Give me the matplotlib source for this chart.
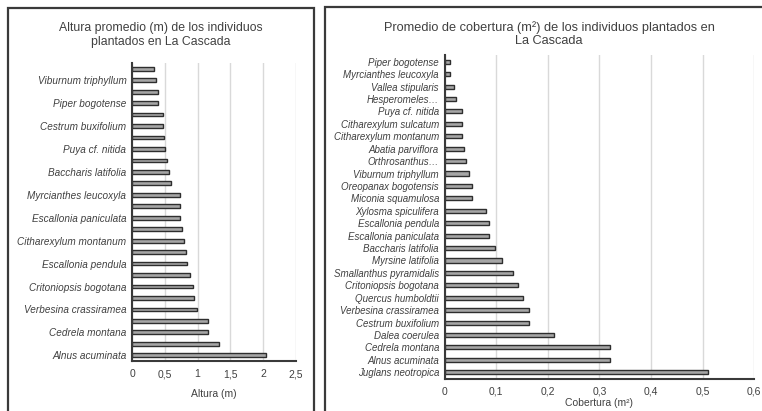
import matplotlib
matplotlib.use("Agg")
import matplotlib.pyplot as plt
from matplotlib.patches import Rectangle

plt.rcParams['font.family'] = ['Liberation Sans', 'DejaVu Sans']

# ---------------- data ----------------
# Left chart (top to bottom); unlabeled ticks in the original are shown blank
alt_species = ["Vallea stipularis", "Viburnum triphyllum", "Hesperomeles goudotiana", "Piper bogotense",
               "Citharexylum sulcatum", "Cestrum buxifolium", "Abatia parviflora", "Puya cf. nitida",
               "Orthrosanthus chimboracensis", "Baccharis latifolia", "Oreopanax bogotensis",
               "Myrcianthes leucoxyla", "Miconia squamulosa", "Escallonia paniculata",
               "Xylosma spiculifera", "Citharexylum montanum", "Myrsine latifolia", "Escallonia pendula",
               "Smallanthus pyramidalis", "Critoniopsis bogotana", "Quercus humboldtii",
               "Verbesina crassiramea", "Dalea coerulea", "Cedrela montana", "Juglans neotropica",
               "Alnus acuminata"]
alt_values = [0.33, 0.37, 0.40, 0.40, 0.48, 0.48, 0.49, 0.50, 0.54, 0.57, 0.60, 0.73, 0.73,
              0.73, 0.76, 0.80, 0.83, 0.84, 0.88, 0.93, 0.95, 0.99, 1.16, 1.16, 1.33, 2.04]
alt_ticks = [0, 0.5, 1, 1.5, 2, 2.5]
alt_ticklabels = ["0", "0,5", "1", "1,5", "2", "2,5"]

# Right chart (top to bottom)
cob_species = ["Piper bogotense", "Myrcianthes leucoxyla", "Vallea stipularis", "Hesperomeles…",
               "Puya cf. nitida", "Citharexylum sulcatum", "Citharexylum montanum", "Abatia parviflora",
               "Orthrosanthus…", "Viburnum triphyllum", "Oreopanax bogotensis", "Miconia squamulosa",
               "Xylosma spiculifera", "Escallonia pendula", "Escallonia paniculata", "Baccharis latifolia",
               "Myrsine latifolia", "Smallanthus pyramidalis", "Critoniopsis bogotana",
               "Quercus humboldtii", "Verbesina crassiramea", "Cestrum buxifolium", "Dalea coerulea",
               "Cedrela montana", "Alnus acuminata", "Juglans neotropica"]
cob_values = [0.010, 0.010, 0.019, 0.023, 0.034, 0.034, 0.034, 0.037, 0.042, 0.048, 0.053, 0.053,
              0.081, 0.087, 0.087, 0.098, 0.111, 0.132, 0.142, 0.152, 0.163, 0.163, 0.212,
              0.321, 0.321, 0.511]
cob_ticks = [0, 0.1, 0.2, 0.3, 0.4, 0.5, 0.6]
cob_ticklabels = ["0", "0,1", "0,2", "0,3", "0,4", "0,5", "0,6"]

# ---------------- figure ----------------
W, H = 762, 411
fig = plt.figure(figsize=(W / 100, H / 100), dpi=100)
fig.patch.set_facecolor('white')

def px_axes(x0, x1, ytop, ybot):
    return fig.add_axes([x0 / W, (H - ybot) / H, (x1 - x0) / W, (ybot - ytop) / H])

TXT = '#404040'
BAR_FC = '#a6a6a6'
BAR_EC = '#2e2e2e'
GRID = '#d9d9d9'

# panel frames
for (x0, x1, y0, y1) in [(8, 314, 8, 430), (325, 790, 7, 430)]:
    fig.patches.append(Rectangle((x0 / W, (H - y1) / H), (x1 - x0) / W, (y1 - y0) / H,
                                 transform=fig.transFigure, fill=False,
                                 edgecolor='#3a3a3a', linewidth=1.6))

def style(ax, xmax, ticks, ticklabels):
    ax.set_xlim(0, xmax)
    ax.set_xticks(ticks)
    ax.set_xticklabels(ticklabels, fontsize=7.5, color=TXT)
    ax.grid(axis='x', color=GRID, linewidth=1.0)
    ax.set_axisbelow(True)
    for s in ['top', 'right']:
        ax.spines[s].set_visible(False)
    ax.spines['left'].set_color('#3a3a3a')
    ax.spines['left'].set_linewidth(1.5)
    ax.spines['bottom'].set_color('#3a3a3a')
    ax.spines['bottom'].set_linewidth(1.5)
    ax.tick_params(axis='both', length=0, pad=4)
    ax.tick_params(axis='x', pad=6)

# ---- left chart ----
ax1 = px_axes(132, 296, 63, 361)
n1 = len(alt_species)
y1 = list(range(n1))
ax1.barh(y1, alt_values, height=0.33, color=BAR_FC, edgecolor=BAR_EC, linewidth=1.0)
ax1.set_ylim(n1 - 0.5, -0.5)
ax1.set_yticks(y1)
ax1.set_yticklabels([s if (n1 - 1 - i) % 2 == 0 else '' for i, s in enumerate(alt_species)],
                    fontsize=7.2, style='italic', color=TXT)
style(ax1, 2.5, alt_ticks, alt_ticklabels)
ax1.set_xlabel("Altura (m)", fontsize=7.5, color=TXT, labelpad=7)
fig.text(161 / W, 1 - 35 / H, "Altura promedio (m) de los individuos\nplantados en La Cascada",
         ha='center', va='center', fontsize=8.8, color=TXT, linespacing=1.25)

# ---- right chart ----
ax2 = px_axes(444.5, 754.3, 55.5, 378.5)
n2 = len(cob_species)
y2 = list(range(n2))
ax2.barh(y2, cob_values, height=0.33, color=BAR_FC, edgecolor=BAR_EC, linewidth=1.0)
ax2.set_ylim(n2 - 0.5, -0.5)
ax2.set_yticks(y2)
ax2.set_yticklabels(cob_species, fontsize=7.0, style='italic', color=TXT)
style(ax2, 0.6, cob_ticks, cob_ticklabels)
ax2.set_xlabel("Cobertura (m²)", fontsize=7.5, color=TXT, labelpad=1)
fig.text(549 / W, 1 - 34 / H, "Promedio de cobertura (m²) de los individuos plantados en\nLa Cascada",
         ha='center', va='center', fontsize=9.2, color=TXT, linespacing=1.2)

fig.savefig("out.png", dpi=100)
